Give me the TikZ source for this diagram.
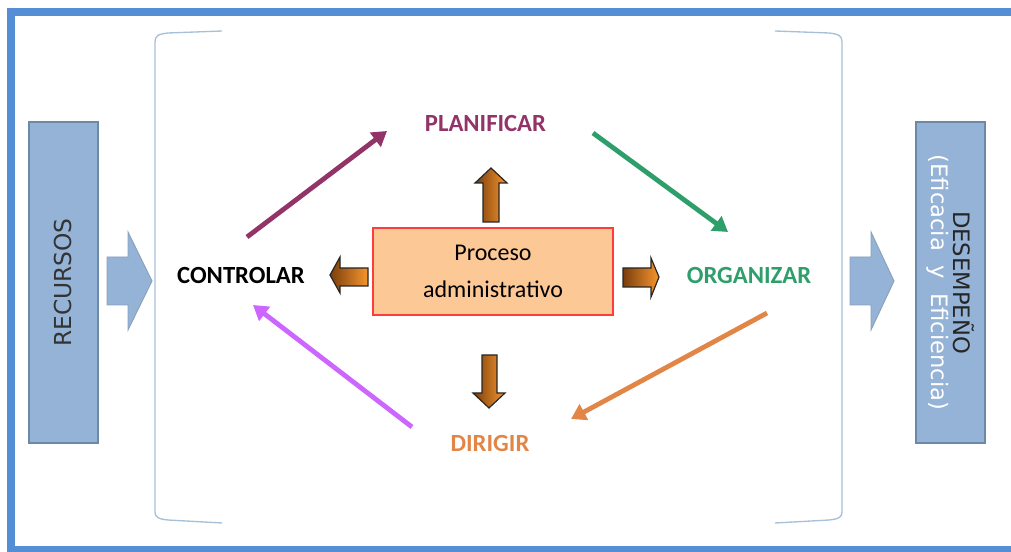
\documentclass[tikz,border=0pt]{standalone}
\usepackage{fontspec}
\setmainfont{Carlito}
\newfontfamily\boxfont{DejaVu Sans}
\definecolor{frameblue}{RGB}{85,142,213}
\definecolor{sideblue}{RGB}{149,179,215}
\definecolor{sideedge}{RGB}{108,137,168}
\definecolor{brackblue}{RGB}{166,192,218}
\definecolor{procfill}{RGB}{252,200,150}
\definecolor{procedge}{RGB}{255,60,60}
\definecolor{planmaroon}{RGB}{146,52,104}
\definecolor{orggreen}{RGB}{46,158,106}
\definecolor{dirorange}{RGB}{226,134,72}
\definecolor{ctrlviolet}{RGB}{204,102,255}
\definecolor{arrbrown}{RGB}{122,62,12}
\definecolor{arrorange}{RGB}{247,150,46}
\usetikzlibrary{arrows.meta,positioning}

\begin{document}
\begin{tikzpicture}[x=0.75pt,y=-0.75pt,
    sidebox/.style={draw=sideedge, fill=sideblue, line width=1.5pt, inner sep=0pt},
    bluearrow/.style={draw=sideedge!80, fill=sideblue, line width=0.7pt},
    orarrow/.style={draw=black!85, line width=0.9pt, left color=arrbrown, right color=arrorange},
    stage/.style={font=\fontsize{18.5}{20}\selectfont\bfseries},
    cyclearrow/.style={line width=3.6pt, -{Triangle[length=11pt,width=13pt]}},
    bracket/.style={draw=brackblue, line width=1pt}]
  \useasboundingbox (0,0) rectangle (1011,552);
  \clip (0,0) rectangle (1011,552);
  % outer frame
  \draw[frameblue, line width=6pt] (11,12) rectangle (1030,550);
  % brackets
  \draw[bracket] (222,31) -- (168,33) .. controls (158,34) and (155,36) .. (155,42)
    -- (155,512) .. controls (155,517) and (158,519) .. (168,520) -- (222,523);
  \draw[bracket] (775,31) -- (829,33) .. controls (839,34) and (842,36) .. (842,42)
    -- (842,512) .. controls (842,517) and (839,519) .. (829,520) -- (775,523);
  % input and output
  \node[sidebox, rotate=90, minimum width=240.75pt, minimum height=51.75pt,
        font=\boxfont\fontsize{17.5}{19}\selectfont, text=black!80] (recursos) at (63.5,282.5)
    {RECURSOS};
  \node[sidebox, rotate=-90, minimum width=240.75pt, minimum height=51.75pt, align=center,
        font=\boxfont\fontsize{17}{17}\selectfont, text=black!85] (desempeno) at (950.5,282.5)
    {DESEMPEÑO\\{\color{white}(Eficacia~ y~ Eficiencia)}};
  \draw[bluearrow] (107,257) -- (128,257) -- (128,232) -- (152,281) -- (128,330)
    -- (128,305) -- (107,305) -- cycle;
  \draw[bluearrow] (850,257) -- (871,257) -- (871,232) -- (894,281) -- (871,330)
    -- (871,305) -- (850,305) -- cycle;
  % central process
  \node[draw=procedge, fill=procfill, line width=1.1pt, minimum width=180pt,
        minimum height=65.25pt, align=center,
        font=\fontsize{18}{28}\selectfont] (proceso) at (493,271.5)
    {Proceso\\administrativo};
  \draw[orarrow] (483,222) -- (483,183) -- (475,183) -- (491,168) -- (507,183)
    -- (499,183) -- (499,222) -- cycle;
  \draw[orarrow] (482,355) -- (482,393) -- (473,393) -- (489,408) -- (505,393)
    -- (497,393) -- (497,355) -- cycle;
  \draw[orarrow] (623,268) -- (651,268) -- (651,258) -- (659,277) -- (651,297)
    -- (651,287) -- (623,287) -- cycle;
  \draw[orarrow] (368,268) -- (340,268) -- (340,257) -- (330,275) -- (340,293)
    -- (340,286) -- (368,286) -- cycle;
  % stages
  \node[stage, text=planmaroon] (planificar) at (485.5,123) {PLANIFICAR};
  \node[stage, text=orggreen] (organizar) at (749,275) {ORGANIZAR};
  \node[stage, text=dirorange] (dirigir) at (490,443) {DIRIGIR};
  \node[stage, text=black] (controlar) at (241,275) {CONTROLAR};
  % cycle connectors
  \coordinate (c2p-s) at (247,237);
  \coordinate (c2p-e) at (387,131);
  \coordinate (p2o-s) at (593,133);
  \coordinate (p2o-e) at (728,232);
  \coordinate (o2d-s) at (767,313);
  \coordinate (o2d-e) at (571,419);
  \coordinate (d2c-s) at (412,427);
  \coordinate (d2c-e) at (253,305);
  \draw[cyclearrow, planmaroon] (c2p-s) -- (c2p-e);
  \draw[cyclearrow, orggreen] (p2o-s) -- (p2o-e);
  \draw[cyclearrow, dirorange] (o2d-s) -- (o2d-e);
  \draw[cyclearrow, ctrlviolet] (d2c-s) -- (d2c-e);
\end{tikzpicture}
\end{document}
